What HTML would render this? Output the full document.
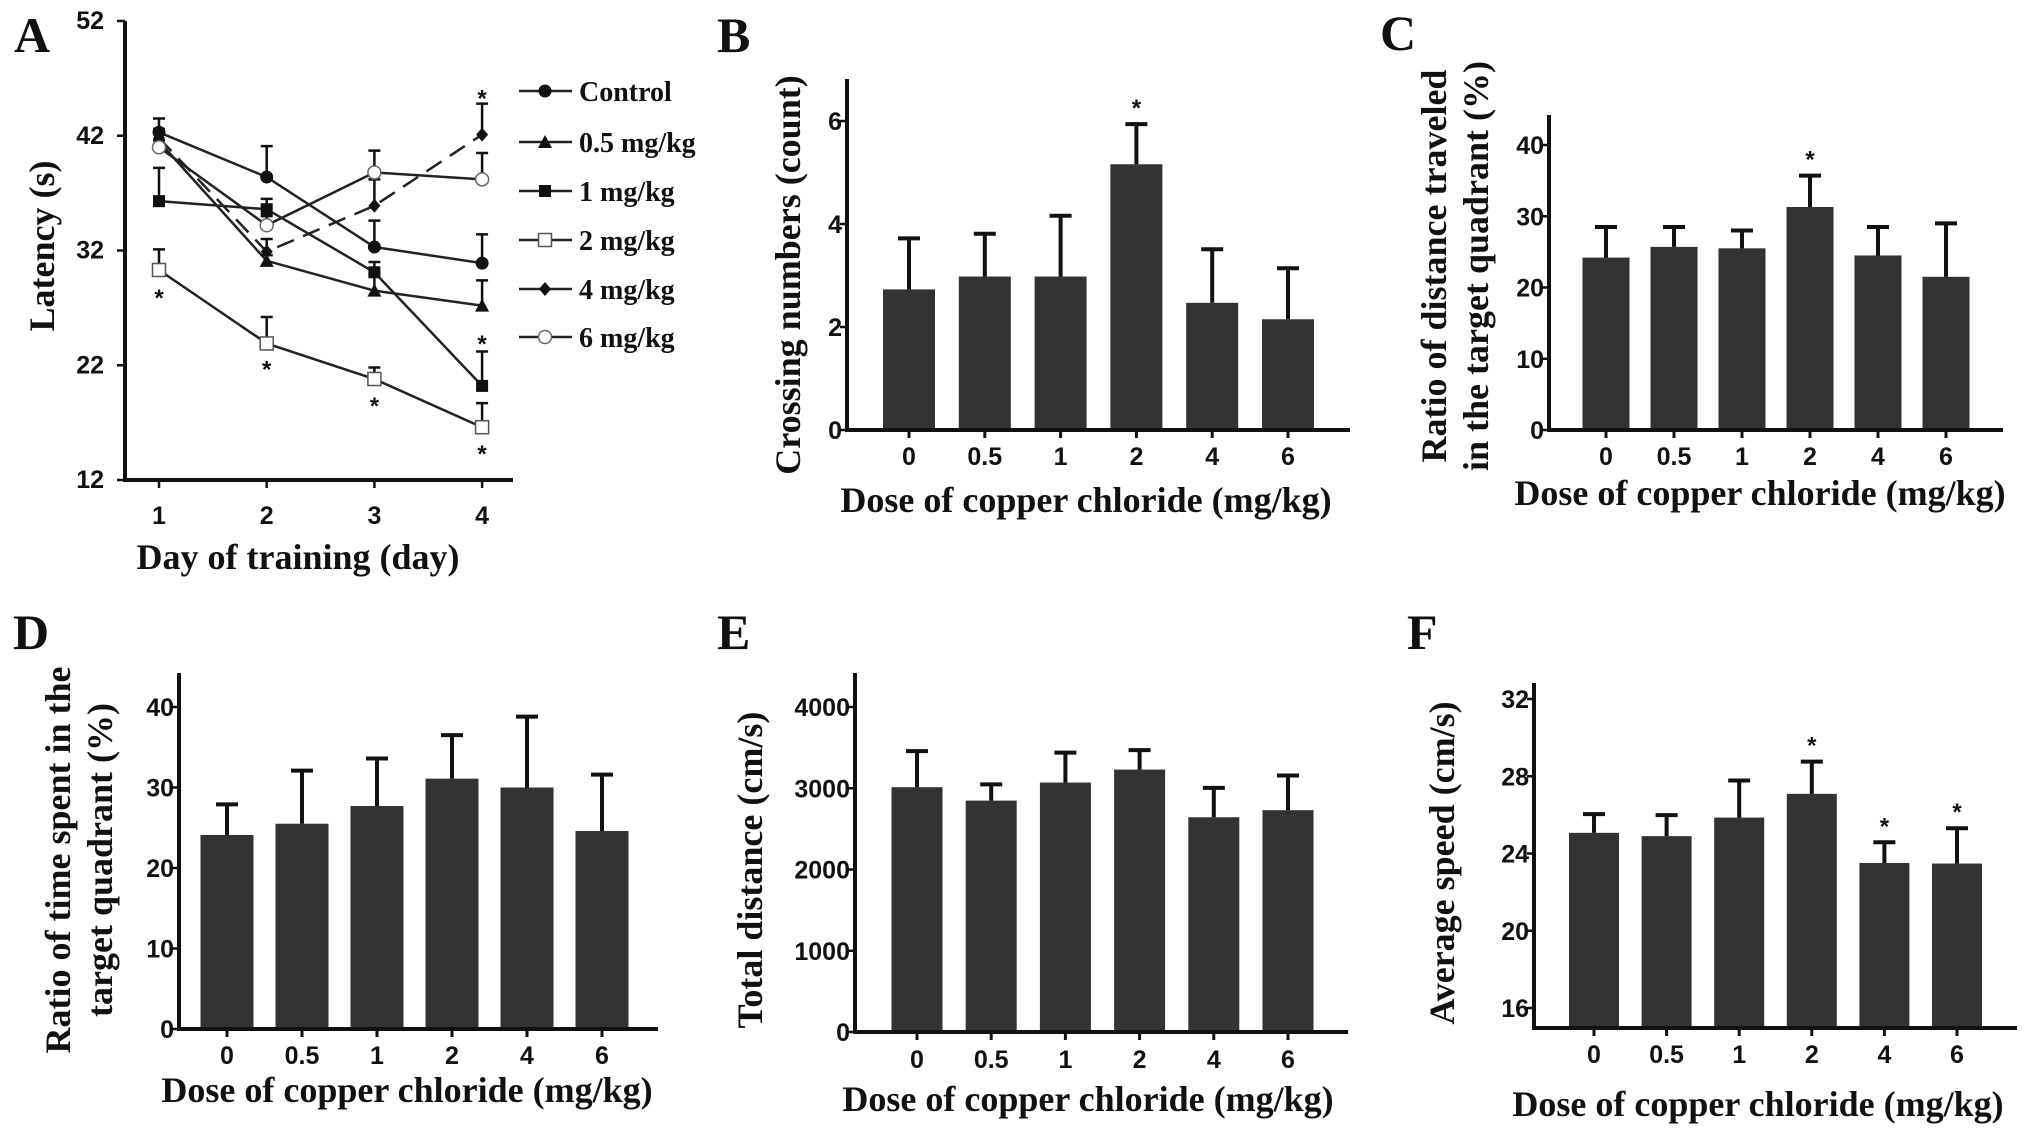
<!DOCTYPE html>
<html><head><meta charset="utf-8"><style>
html,body{margin:0;padding:0;background:#fff;}
svg{display:block;}
.tk{font-family:"Liberation Sans",sans-serif;font-weight:bold;font-size:25px;fill:#111;}
.ti{font-family:"Liberation Serif",serif;font-weight:bold;font-size:36px;fill:#111;}
.lg{font-family:"Liberation Serif",serif;font-weight:bold;font-size:28px;fill:#111;}
.pl{font-family:"Liberation Serif",serif;font-weight:bold;font-size:50px;fill:#111;}
.st{font-family:"Liberation Sans",sans-serif;font-weight:bold;font-size:24px;fill:#111;}
</style></head><body>
<svg id="fig" width="2031" height="1135" viewBox="0 0 2031 1135"></svg>
<script>
// ---------- Panel A data ----------
const daysA = [1, 2, 3, 4];
const seriesNamesA = ["Control", "0.5 mg/kg", "1 mg/kg", "2 mg/kg", "4 mg/kg", "6 mg/kg"];
const controlA = [42.3, 38.4, 32.3, 30.9];
const dose05A = [41.5, 31.1, 28.5, 27.2];
const dose1A = [36.3, 35.6, 30.1, 20.2];
const dose2A = [30.3, 23.9, 20.8, 16.6];
const dose4A = [41.8, 31.9, 35.9, 42.1];
const dose6A = [41.0, 34.2, 38.8, 38.2];
const controlErrA = [43.5, 41.1, 34.6, 33.4];
const dose05ErrA = [42.5, 31.6, 30.0, 29.4];
const dose1ErrA = [39.2, 36.5, 31.0, 23.2];
const dose2ErrA = [32.1, 26.2, 21.8, 18.7];
const dose4ErrA = [42.6, 33.0, 38.2, 44.8];
const dose6ErrA = [41.6, 35.0, 40.7, 40.5];
const yTicksA = [12, 22, 32, 42, 52];
// ---------- Bar panels data ----------
const doses = ["0", "0.5", "1", "2", "4", "6"];
const valuesB = [2.73, 2.98, 2.98, 5.16, 2.47, 2.15];
const errB = [3.72, 3.81, 4.16, 5.94, 3.51, 3.14];
const ticksB = [0, 2, 4, 6];
const starB = [false, false, false, true, false, false];
const valuesC = [24.2, 25.7, 25.5, 31.3, 24.5, 21.5];
const errC = [28.5, 28.5, 28.0, 35.7, 28.5, 29.0];
const ticksC = [0, 10, 20, 30, 40];
const starC = [false, false, false, true, false, false];
const valuesD = [24.1, 25.5, 27.7, 31.1, 30.0, 24.6];
const errD = [27.9, 32.1, 33.6, 36.5, 38.8, 31.6];
const ticksD = [0, 10, 20, 30, 40];
const valuesE = [3013, 2848, 3070, 3230, 2643, 2730];
const errE = [3457, 3048, 3439, 3470, 3004, 3157];
const ticksE = [0, 1000, 2000, 3000, 4000];
const valuesF = [25.07, 24.9, 25.86, 27.09, 23.51, 23.48];
const errF = [26.04, 25.99, 27.78, 28.76, 24.58, 25.31];
const ticksF = [16, 20, 24, 28, 32];
const starF = [false, false, false, true, true, true];

const NS = "http://www.w3.org/2000/svg";
const svg = document.getElementById("fig");
function mk(tag, attrs, parent) {
  const e = document.createElementNS(NS, tag);
  for (const k in attrs) e.setAttribute(k, attrs[k]);
  (parent || svg).appendChild(e);
  return e;
}
function txt(s, x, y, cls, anchor, parent, rot) {
  const t = mk("text", {x: x, y: y, class: cls, "text-anchor": anchor || "start"}, parent);
  if (rot) t.setAttribute("transform", "rotate(-90 " + x + " " + y + ")");
  t.textContent = s;
  return t;
}

function barChart(o) {
  const g = mk("g", {});
  
  
  const ys = v => o.y0 - (v - o.vmin) / (o.vmax - o.vmin) * (o.y0 - o.yMax);
  const xs = i => o.x0c + i * o.step;
  o.values.forEach((v, i) => {
    const cx = xs(i);
    const top = ys(v);
    const r = mk("rect", {x: cx - o.bw / 2, y: top, width: o.bw, height: o.yAxisBottom - top, fill: "#333"}, g);
    
    
    const ey = ys(o.err[i]);
    const el = mk("path", {d: "M" + cx + " " + top + "V" + ey + "M" + (cx - 11) + " " + ey + "H" + (cx + 11), stroke: "#111", "stroke-width": 4, fill: "none"}, g);
    
    
    if (o.star && o.star[i]) {
      const s = txt("*", cx, ey - 8, "st", "middle", g);
      
      
    }
    const tm = mk("line", {x1: cx, x2: cx, y1: o.yAxisBottom, y2: o.yAxisBottom + 8, stroke: "#111", "stroke-width": 3}, g);
    
    
    const tl = txt(doses[i], cx, o.xTickY, "tk", "middle", g);
    
    
  });
  const ax = mk("path", {d: "M" + o.ax + " " + o.axTop + "V" + o.yAxisBottom + "H" + o.axRight, stroke: "#111", "stroke-width": 4, fill: "none"}, g);
  
  
  o.ticks.forEach(t => {
    const y = ys(t);
    const tm = mk("line", {x1: o.ax - 7, x2: o.ax, y1: y, y2: y, stroke: "#111", "stroke-width": 2.5}, g);
    
    
    const tl = txt(String(t), o.ax - 5, y + 9, "tk", "end", g);
    
    
  });
  const xt = txt("Dose of copper chloride (mg/kg)", o.xTitleX, o.xTitleY, "ti", "middle", g);
  
  
  o.yTitle.forEach((line, k) => {
    const yt = txt(line, o.yTitleX[k], o.yTitleY, "ti", "middle", g, true);
    
    
  });
  const pl = txt(o.letter, o.letterX, o.letterY, "pl", "start", g);
  
  
}

barChart({name: "panel-b-crossing-numbers", values: valuesB, err: errB, ticks: ticksB, star: starB,
  vmin: 0, vmax: 6, y0: 430, yMax: 121, yAxisBottom: 430, ax: 847, axTop: 79, axRight: 1350,
  x0c: 909, step: 75.8, bw: 52, xTickY: 465, xTitleX: 1086, xTitleY: 512,
  yTitle: ["Crossing numbers (count)"], yTitleX: [800], yTitleY: 275, letter: "B", letterX: 717, letterY: 52});
barChart({name: "panel-c-distance-ratio", values: valuesC, err: errC, ticks: ticksC, star: starC,
  vmin: 0, vmax: 40, y0: 430, yMax: 145, yAxisBottom: 430, ax: 1549, axTop: 115, axRight: 2003,
  x0c: 1606, step: 68, bw: 47, xTickY: 465, xTitleX: 1760, xTitleY: 505,
  yTitle: ["Ratio of distance traveled", "in the target quadrant (%)"], yTitleX: [1446, 1488], yTitleY: 266, letter: "C", letterX: 1380, letterY: 50});
barChart({name: "panel-d-time-ratio", values: valuesD, err: errD, ticks: ticksD,
  vmin: 0, vmax: 40, y0: 1029, yMax: 707, yAxisBottom: 1029, ax: 179, axTop: 673, axRight: 658,
  x0c: 227, step: 75, bw: 53, xTickY: 1064, xTitleX: 407, xTitleY: 1102,
  yTitle: ["Ratio of time spent in the", "target quadrant (%)"], yTitleX: [70, 112], yTitleY: 860, letter: "D", letterX: 13, letterY: 649});
barChart({name: "panel-e-total-distance", values: valuesE, err: errE, ticks: ticksE,
  vmin: 0, vmax: 4000, y0: 1032, yMax: 707, yAxisBottom: 1032, ax: 855, axTop: 673, axRight: 1348,
  x0c: 917, step: 74.2, bw: 51, xTickY: 1068, xTitleX: 1088, xTitleY: 1111,
  yTitle: ["Total distance (cm/s)"], yTitleX: [762], yTitleY: 870, letter: "E", letterX: 717, letterY: 649});
barChart({name: "panel-f-average-speed", values: valuesF, err: errF, ticks: ticksF, star: starF,
  vmin: 16, vmax: 32, y0: 1008, yMax: 699, yAxisBottom: 1028, ax: 1534, axTop: 683, axRight: 2017,
  x0c: 1594, step: 72.6, bw: 50, xTickY: 1063, xTitleX: 1758, xTitleY: 1116,
  yTitle: ["Average speed (cm/s)"], yTitleX: [1454], yTitleY: 863, letter: "F", letterX: 1407, letterY: 649});

// ---------- Panel A ----------
(function () {
  const g = mk("g", {});
  
  
  const ys = v => 480 - (v - 12) / 40 * (480 - 21);
  const xs = d => 159 + (d - 1) * 107.7;
  const ax = mk("path", {d: "M125 21V480H513", stroke: "#111", "stroke-width": 4, fill: "none"}, g);
  
  
  yTicksA.forEach(t => {
    const y = ys(t);
    const tm = mk("line", {x1: 117, x2: 125, y1: y, y2: y, stroke: "#111", "stroke-width": 2.5}, g);
    
    
    const tl = txt(String(t), 104, y + 8, "tk", "end", g);
    
    
  });
  daysA.forEach(d => {
    const x = xs(d);
    const tm = mk("line", {x1: x, x2: x, y1: 480, y2: 488, stroke: "#111", "stroke-width": 2.5}, g);
    
    
    const tl = txt(String(d), x, 524, "tk", "middle", g);
    
    
  });
  const xt = txt("Day of training (day)", 298, 569, "ti", "middle", g);
  
  
  const yt = txt("Latency  (s)", 54, 246, "ti", "middle", g, true);
  
  
  const pl = txt("A", 14, 52, "pl", "start", g);
  
  

  const vals = [controlA, dose05A, dose1A, dose2A, dose4A, dose6A];
  const errs = [controlErrA, dose05ErrA, dose1ErrA, dose2ErrA, dose4ErrA, dose6ErrA];
  const markers = ["circle", "triangle", "square", "osquare", "diamond", "ocircle"];
  function marker(kind, x, y, parent) {
    let e;
    if (kind === "circle") e = mk("circle", {cx: x, cy: y, r: 6.5, fill: "#111"}, parent);
    else if (kind === "ocircle") e = mk("circle", {cx: x, cy: y, r: 6.5, fill: "#fff", stroke: "#666", "stroke-width": 1.5}, parent);
    else if (kind === "square") e = mk("rect", {x: x - 6, y: y - 6, width: 12, height: 12, fill: "#111"}, parent);
    else if (kind === "osquare") e = mk("rect", {x: x - 6.5, y: y - 6.5, width: 13, height: 13, fill: "#fff", stroke: "#555", "stroke-width": 1.5}, parent);
    else if (kind === "triangle") e = mk("path", {d: "M" + x + " " + (y - 7) + "L" + (x + 7) + " " + (y + 6) + "L" + (x - 7) + " " + (y + 6) + "Z", fill: "#111"}, parent);
    else e = mk("path", {d: "M" + x + " " + (y - 7) + "L" + (x + 6) + " " + y + "L" + x + " " + (y + 7) + "L" + (x - 6) + " " + y + "Z", fill: "#111"}, parent);
    return e;
  }
  vals.forEach((arr, s) => {
    const sg = mk("g", {}, g);
    
    
    const pts = arr.map((v, i) => xs(daysA[i]) + "," + ys(v)).join(" ");
    const ln = mk("polyline", {points: pts, fill: "none", stroke: "#222", "stroke-width": 2.5}, sg);
    if (s === 4) ln.setAttribute("stroke-dasharray", "18 10");
    
    
    arr.forEach((v, i) => {
      const x = xs(daysA[i]), y = ys(v), ey = ys(errs[s][i]);
      const eb = mk("path", {d: "M" + x + " " + y + "V" + ey + "M" + (x - 6) + " " + ey + "H" + (x + 6), stroke: "#111", "stroke-width": 2.5, fill: "none"}, sg);
      
      
      const m = marker(markers[s], x, y, sg);
      
      
    });
  });
  const starsA = [[1, 28.2], [2, 22.0], [3, 18.8], [4, 14.6], [4, 45.6], [4, 24.2]];
  starsA.forEach(p => {
    const s = txt("*", xs(p[0]), ys(p[1]) + 12, "st", "middle", g);
    
    
  });
  const lgY = [91, 142, 191, 240, 289, 337];
  seriesNamesA.forEach((n, s) => {
    const lg = mk("g", {}, g);
    
    
    mk("line", {x1: 519, x2: 572, y1: lgY[s], y2: lgY[s], stroke: "#222", "stroke-width": 2.5}, lg);
    marker(markers[s], 545, lgY[s], lg);
    txt(n, 579, lgY[s] + 10, "lg", "start", lg);
  });
})();
</script>
</body></html>
